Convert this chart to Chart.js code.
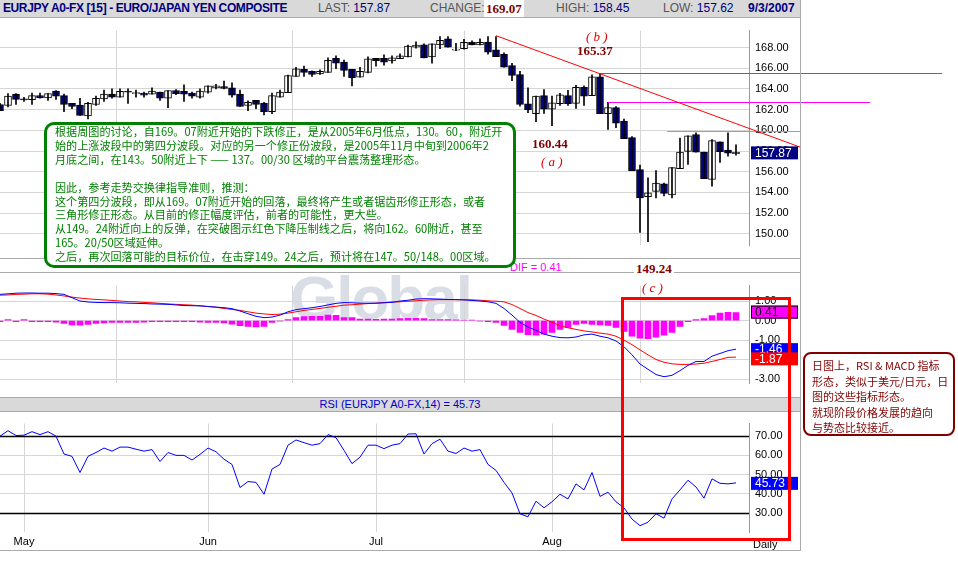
<!DOCTYPE html>
<html>
<head>
<meta charset="utf-8">
<script src="https://cdn.jsdelivr.net/npm/chart.js@4/dist/chart.umd.min.js"></script>
<style>
  body { margin:0; width:958px; height:581px; background:#fff; position:relative; overflow:hidden; font-family:"Liberation Sans", Arial, sans-serif; }
  .abs { position:absolute; }
  canvas { position:absolute; left:0; }
  #hdr { left:0; top:0; width:800px; height:17px; background:#d9d9d9; border-bottom:1px solid #aaa; font-size:12px; line-height:17px; white-space:nowrap; }
  #hdr span { position:absolute; top:0; }
  .lab { color:#555; } .val { color:#000080; }
  .serif { font-family:"Liberation Serif","DejaVu Serif",serif; font-weight:bold; color:#800000; font-size:13px; }
  .ital { font-family:"Liberation Serif",serif; font-style:italic; color:#e00000; font-size:13px; }
  #note { left:44px; top:122px; border:3px solid #008000; border-radius:10px; background:#fff; color:#008000;
          font-family:"Noto Sans CJK SC", sans-serif; font-size:11.1px; line-height:13.9px; padding:0 0 0 8px; box-sizing:border-box; width:472px; height:146px; white-space:nowrap; z-index:5; overflow:hidden; }
  #note2 { left:803px; top:352px; width:152px; height:84px; border:2px solid #800000; border-radius:8px; color:#800000; box-sizing:border-box;
           font-family:"Noto Sans CJK SC", sans-serif; font-size:11px; line-height:15.5px; padding:4px 0 0 7px; white-space:nowrap; }
  #redbox { left:621px; top:297px; width:170px; height:244px; border:3px solid #ff0000; box-sizing:border-box; z-index:6; }
</style>
</head>
<body>
<div class="abs" style="left:290px;top:262px;font:bold 62px 'Liberation Sans',sans-serif;color:rgba(170,182,200,0.45);letter-spacing:-2px;">Global</div>
<canvas id="priceChart" width="958" height="240" style="top:18px"></canvas>
<canvas id="macdChart" width="958" height="123" style="top:273px"></canvas>
<canvas id="rsiChart" width="958" height="140" style="top:411px"></canvas>

<div id="hdr" class="abs">
  <span style="left:3px;font-weight:bold;color:#000080;font-size:12px;letter-spacing:-0.4px;">EURJPY A0-FX [15] - EURO/JAPAN YEN COMPOSITE</span>
  <span style="left:318px;"><span class="lab" style="position:static">LAST: </span><span class="val" style="position:static">157.87</span></span>
  <span style="left:430px;" class="lab">CHANGE: <span style="color:#000080;font-size:9px">&#9650;</span></span>
  <span style="left:484px;background:#fff;padding:0 2px;" class="serif">169.07</span>
  <span style="left:556px;"><span class="lab" style="position:static">HIGH: </span><span class="val" style="position:static">158.45</span></span>
  <span style="left:663px;"><span class="lab" style="position:static">LOW: </span><span class="val" style="position:static">157.62</span></span>
  <span style="left:748px;font-weight:bold;color:#000080;">9/3/2007</span>
</div>
<div class="abs" style="left:0;top:258px;width:800px;height:1px;background:#aaa"></div>
<div class="abs" style="left:0;top:272px;width:800px;height:1px;background:#aaa"></div>
<div class="abs" style="left:0;top:397px;width:800px;height:13px;background:#d9d9d9;border-top:1px solid #aaa;border-bottom:1px solid #aaa;color:#0000cc;font-size:11px;line-height:13px;text-align:center;">RSI (EURJPY A0-FX,14) = 45.73</div>
<div class="abs" style="left:800px;top:0;width:1px;height:551px;background:#aaa"></div>
<div class="abs" style="left:0;top:550px;width:800px;height:1px;background:#aaa"></div>
<div class="abs" style="left:510px;top:261px;color:#ff00ff;font-size:11px;">DIF = 0.41</div>

<div class="abs ital" style="left:586px;top:29px;">( b )</div>
<div class="abs serif" style="left:577px;top:43px;">165.37</div>
<div class="abs serif" style="left:532px;top:136px;">160.44</div>
<div class="abs ital" style="left:541px;top:154px;">( a )</div>
<div class="abs serif" style="left:634px;top:261px;background:#fff;padding:0 2px;z-index:4">149.24</div>
<div class="abs ital" style="left:642px;top:280px;">( c )</div>

<div id="note" class="abs">根据周图的讨论，自169。07附近开始的下跌修正，是从2005年6月低点，130。60，附近开<br>始的上涨波段中的第四分波段。对应的另一个修正份波段，是2005年11月中旬到2006年2<br>月底之间，在143。50附近上下 —— 137。00/30 区域的平台震荡整理形态。<br><br>因此，参考走势交换律指导准则，推测：<br>这个第四分波段，即从169。07附近开始的回落，最终将产生或者锯齿形修正形态，或者<br>三角形修正形态。从目前的修正幅度评估，前者的可能性，更大些。<br>从149。24附近向上的反弹，在突破图示红色下降压制线之后，将向162。60附近，甚至<br>165。20/50区域延伸。<br>之后，再次回落可能的目标价位，在击穿149。24之后，预计将在147。50/148。00区域。</div>
<div id="note2" class="abs">日图上，RSI &amp; MACD 指标<br>形态，类似于美元/日元，日<br>图的这些指标形态。<br>就现阶段价格发展的趋向<br>与势态比较接近。</div>
<div id="redbox" class="abs"></div>

<script>
// trading days 0..92 : Apr 26 2007 .. Sep 3 2007
let monthIdx = [3, 26, 47, 69];
let monthNames = ['May', 'Jun', 'Jul', 'Aug'];
let priceTicks = [150, 152, 154, 156, 158, 160, 162, 164, 166, 168];
let macdTicks = [1, 0, -1, -2, -3];
let rsiTicks = [30, 40, 50, 60, 70];

let opens  = [162.5,162.4,163.5,163.0,162.96,163.36,163.13,163.8,163.36,162.6,162.44,161.4,162.5,163.04,163.5,163.2,163.75,163.55,163.6,163.5,163.7,163.1,163.85,163.76,163.6,163.2,163.7,164.1,164.22,164.1,163.5,162.4,162.9,162.6,161.8,163.2,163.65,165.2,165.9,165.7,165.45,165.6,166.96,166.6,165.9,165.15,165.6,166.95,166.96,166.7,166.93,167.1,168.05,168.26,167.1,168.26,168.85,167.75,167.9,168.5,168.25,168.5,167.77,167.34,166.27,165.4,162.57,161.6,163.35,162.05,162.57,163.35,162.6,164.15,163.35,165.17,161.6,162.2,160.9,159.3,156.2,153.6,154.1,154.82,153.75,156.3,157.96,159.6,157.9,155.25,158.9,158.1,157.75];
let highs  = [162.6,163.56,163.55,163.2,163.6,163.6,163.56,163.85,163.5,162.6,163.1,162.7,163.3,163.9,164.0,164.0,164.0,163.9,163.7,164.1,163.7,163.85,163.95,164.4,163.7,164.0,164.3,164.45,164.75,164.6,163.9,162.85,162.9,162.7,163.6,163.9,165.35,166.1,166.2,165.75,165.85,167.0,167.2,166.8,165.9,166.1,167.1,166.95,167.3,167.2,167.4,168.25,168.55,168.35,168.35,169.05,169.05,168.4,168.8,168.65,168.85,169.05,169.07,167.5,166.47,165.7,164.1,163.3,163.95,163.3,163.58,163.87,164.35,164.3,165.37,165.45,162.7,162.3,161.1,159.4,156.64,155.4,156.1,154.9,156.4,159.24,159.47,159.76,157.9,159.1,158.9,159.76,158.6];
let lows   = [161.9,162.26,162.5,162.8,162.5,163.1,162.9,163.0,161.8,162.1,161.45,161.1,162.4,162.8,163.1,163.2,162.6,163.2,163.2,163.5,162.9,162.2,163.45,162.8,163.1,163.1,163.6,164.0,164.0,163.2,162.3,161.9,162.1,161.5,161.6,163.2,163.65,165.2,165.2,165.2,165.4,165.6,165.95,165.2,164.3,165.15,165.55,166.2,166.3,166.5,166.93,167.1,167.95,167.0,166.5,167.9,168.05,167.7,167.85,168.26,168.25,167.35,167.13,166.1,164.8,162.34,161.7,160.83,161.64,160.44,162.42,162.42,162.13,162.4,163.35,161.6,160.1,160.25,159.2,156.1,150.14,149.24,153.46,153.66,153.46,156.3,156.7,157.9,155.34,154.6,156.9,157.5,157.6];
let closes = [161.9,163.3,163.0,162.95,163.36,163.13,163.56,163.3,162.5,162.3,161.45,162.6,163.1,163.5,163.2,163.76,163.7,163.55,163.4,163.8,163.1,163.85,163.55,163.5,163.3,163.8,164.3,164.3,164.05,163.4,162.3,162.7,162.5,161.8,163.36,163.7,165.3,165.95,165.6,165.4,165.7,166.76,166.5,165.8,165.1,165.7,166.9,166.73,166.6,167.0,167.2,168.15,168.25,167.0,168.35,168.7,168.05,167.85,168.5,168.26,168.5,167.55,167.13,166.1,165.3,162.5,162.0,163.3,162.05,162.65,163.43,162.57,164.15,163.3,165.17,161.6,162.19,160.7,159.2,156.1,153.46,153.95,154.9,153.9,156.4,157.9,159.47,157.9,155.34,159.0,157.94,157.8,157.87];

let dif  = [1.34,1.37,1.40,1.41,1.41,1.40,1.40,1.38,1.34,1.17,1.00,0.95,0.93,0.92,0.92,0.91,0.89,0.88,0.87,0.85,0.84,0.83,0.80,0.77,0.76,0.75,0.72,0.69,0.66,0.61,0.49,0.35,0.22,0.15,0.18,0.28,0.45,0.56,0.61,0.66,0.72,0.80,0.88,0.92,0.91,0.89,0.89,0.89,0.91,0.93,1.00,1.04,1.10,1.12,1.11,1.10,1.08,1.07,1.06,1.03,1.00,0.96,0.88,0.62,0.28,-0.09,-0.33,-0.50,-0.69,-0.80,-0.87,-0.88,-0.84,-0.73,-0.69,-0.80,-0.88,-1.04,-1.34,-1.75,-2.22,-2.49,-2.76,-2.87,-2.80,-2.56,-2.29,-2.09,-2.09,-1.82,-1.68,-1.54,-1.46];
let dea  = [1.30,1.31,1.34,1.35,1.37,1.37,1.35,1.31,1.26,1.20,1.15,1.11,1.08,1.06,1.03,1.00,0.97,0.96,0.93,0.91,0.88,0.85,0.83,0.81,0.79,0.76,0.72,0.68,0.62,0.57,0.52,0.45,0.38,0.34,0.31,0.33,0.38,0.45,0.52,0.57,0.62,0.68,0.73,0.79,0.81,0.84,0.87,0.89,0.92,0.95,0.96,0.99,1.01,1.04,1.06,1.07,1.07,1.07,1.06,1.06,1.04,1.01,0.99,0.96,0.82,0.62,0.41,0.26,0.08,-0.09,-0.26,-0.37,-0.45,-0.53,-0.58,-0.64,-0.69,-0.80,-1.00,-1.23,-1.50,-1.75,-1.99,-2.13,-2.21,-2.24,-2.24,-2.22,-2.18,-2.09,-1.99,-1.88,-1.87];
let hist = [-0.05,0.05,-0.05,0.05,-0.05,-0.05,-0.05,-0.08,-0.15,-0.22,-0.23,-0.2,-0.15,-0.12,-0.1,-0.1,-0.1,-0.1,-0.08,-0.06,-0.05,-0.05,-0.05,-0.05,-0.05,-0.08,-0.1,-0.1,-0.12,-0.18,-0.26,-0.3,-0.33,-0.3,-0.1,-0.03,0.05,0.15,0.2,0.22,0.22,0.28,0.27,0.15,0.15,0.08,0.08,0.07,0.08,0.08,0.1,0.12,0.12,0.1,0.05,0.05,0.05,0.04,0.03,0.02,-0.02,-0.05,-0.1,-0.25,-0.45,-0.6,-0.72,-0.75,-0.7,-0.6,-0.45,-0.35,-0.2,-0.15,-0.2,-0.22,-0.25,-0.35,-0.55,-0.8,-0.9,-0.92,-0.85,-0.75,-0.6,-0.3,-0.05,0.05,0.1,0.25,0.38,0.42,0.41];
let rsi  = [70,72.8,70.3,70.5,72.3,70.8,72.3,70,60.7,59.5,51.1,59.5,61.5,63.8,62.2,64.3,64.3,63.2,62.2,63,56.8,61.5,60,60,57.6,60.5,63.8,61.9,58,55.3,43.3,46.4,46,39.8,52.9,55.3,65.3,68,66.6,65.3,66.1,70.8,69.2,62.6,55.7,59.1,65.3,65.3,63.5,65.3,66.1,71.1,71.2,60.7,66.1,68.4,62.2,61,63.8,62.2,63,55.3,52.2,46,40.5,29.7,28.1,36.2,32.8,35.9,39.8,37.4,45.2,42.1,51.1,38.7,40.9,35.9,32.8,26.9,23.5,25.3,29.7,27.4,37.4,42.1,47.1,43.6,37.8,47.8,45.5,45.2,45.73];

// reference lines (x in trading-day index, y in price)
let trendPts = [[62, 169.15], [74, 165.75]];
let hLines = [
  { from: 75, to: 117.75, y: 165.5, color: '#ff00ff' },
  { from: 76, to: 108.75, y: 162.7, color: '#ff00ff' },
  { from: 83.4, to: 100, y: 159.95, color: '#ff8040' }
];

const XMAX = 749 / 8;
const gridGray = '#d6d6d6';
const axisFont = { family: "'Liberation Sans', Arial, sans-serif", size: 11 };

function xScale(showLabels) {
  return {
    type: 'linear', min: 0, max: XMAX, offset: false,
    afterBuildTicks: s => { s.ticks = monthIdx.map(v => ({ value: v })); },
    afterFit: s => { s.height = showLabels ? 19 : 0; },
    grid: { color: gridGray, drawTicks: false },
    border: { display: false },
    ticks: {
      display: showLabels, autoSkip: false, maxRotation: 0, color: '#000', font: axisFont, padding: 3,
      callback: v => monthNames[monthIdx.indexOf(v)] || ''
    }
  };
}
function yScale(min, max, tickVals, fmt) {
  return {
    position: 'right', min: min, max: max,
    afterBuildTicks: s => { s.ticks = tickVals.map(v => ({ value: v })); },
    afterFit: s => { s.width = 958 - 749; },
    grid: { color: gridGray, drawTicks: false },
    border: { display: true, color: '#999' },
    ticks: { autoSkip: false, color: '#000', font: axisFont, padding: 6, callback: fmt }
  };
}
const tagPlugin = {
  id: 'tags',
  afterDraw(chart, args, opts) {
    const c = chart.ctx, ys = chart.scales.y;
    (opts.tags || []).forEach(t => {
      const py = ys.getPixelForValue(t.v);
      c.save();
      c.fillStyle = t.bg;
      c.fillRect(751, py - 6, 47, 13);
      if (t.border) { c.strokeStyle = t.border; c.lineWidth = 1; c.strokeRect(751.5, py - 5.5, 46, 12); }
      c.fillStyle = t.fg; c.font = "12px 'Liberation Sans', Arial"; c.textBaseline = 'middle';
      c.fillText(t.text, 755, py + 1);
      c.restore();
    });
  }
};
const linesPlugin = {
  id: 'refLines',
  afterDraw(chart) {
    const c = chart.ctx, xs = chart.scales.x, ys = chart.scales.y;
    c.save();
    c.lineWidth = 1;
    hLines.forEach(l => {
      c.strokeStyle = l.color;
      const py = Math.round(ys.getPixelForValue(l.y)) + 0.5;
      c.beginPath(); c.moveTo(xs.getPixelForValue(l.from), py); c.lineTo(xs.getPixelForValue(l.to), py); c.stroke();
    });
    const x1 = xs.getPixelForValue(trendPts[0][0]), y1 = ys.getPixelForValue(trendPts[0][1]);
    const x2 = xs.getPixelForValue(trendPts[1][0]), y2 = ys.getPixelForValue(trendPts[1][1]);
    const xe = 800, ye = y1 + (y2 - y1) * (xe - x1) / (x2 - x1);
    c.strokeStyle = '#ff0000';
    c.beginPath(); c.moveTo(x1, y1); c.lineTo(xe, ye); c.stroke();
    c.restore();
  }
};

const common = {
  responsive: false, animation: false,
  layout: { padding: 0 },
  plugins: { legend: { display: false }, tooltip: { enabled: false } }
};

// ---- price ----
let wickData = opens.map((o, i) => ({ x: i, y: [lows[i], highs[i]] }));
let bodyData = opens.map((o, i) => ({ x: i, y: [Math.min(o, closes[i]), Math.max(o, closes[i])] }));
new Chart(document.getElementById('priceChart'), {
  type: 'bar',
  data: {
    datasets: [
      { data: wickData, backgroundColor: '#000', barThickness: 1, grouped: false },
      { data: bodyData, grouped: false, barThickness: 7, minBarLength: 1,
        backgroundColor: opens.map((o, i) => closes[i] >= o ? '#ffffff' : '#000080'),
        borderColor: '#000', borderWidth: 1, borderSkipped: false }
    ]
  },
  options: Object.assign({}, common, {
    scales: {
      x: xScale(false),
      y: yScale(169.64 - 240 / 11.56, 169.64, priceTicks, v => v.toFixed(2))
    },
    plugins: Object.assign({}, common.plugins, {
      tags: { tags: [{ v: closes[closes.length - 1], text: closes[closes.length - 1].toFixed(2), bg: '#000080', fg: '#fff' }] }
    })
  }),
  plugins: [linesPlugin, tagPlugin]
});

// ---- MACD ----
let idx = opens.map((o, i) => i);
new Chart(document.getElementById('macdChart'), {
  type: 'bar',
  data: {
    datasets: [
      { type: 'line', data: idx.map(i => ({ x: i, y: dif[i] })), borderColor: '#0000ff', borderWidth: 1, pointRadius: 0, order: 1 },
      { type: 'line', data: idx.map(i => ({ x: i, y: dea[i] })), borderColor: '#ff0000', borderWidth: 1, pointRadius: 0, order: 2 },
      { data: idx.map(i => ({ x: i, y: hist[i] })), backgroundColor: '#ff00ff', barThickness: 6, order: 3 }
    ]
  },
  options: Object.assign({}, common, {
    scales: {
      x: xScale(false),
      y: yScale(-(123 - 44) / 24.6, 44 / 24.6, macdTicks, v => (v === -2 ? '' : v.toFixed(2)))
    },
    plugins: Object.assign({}, common.plugins, {
      tags: { tags: [
        { v: hist[92] + 0.05, text: hist[92].toFixed(2), bg: '#ff00ff', fg: '#000', border: '#000' },
        { v: dif[92], text: dif[92].toFixed(2), bg: '#0000ff', fg: '#fff' },
        { v: dea[92] - 0.06, text: dea[92].toFixed(2), bg: '#ff0000', fg: '#fff' }
      ] }
    })
  }),
  plugins: [tagPlugin]
});

// ---- RSI ----
const rsiLevels = {
  id: 'rsiLevels',
  beforeDatasetsDraw(chart) {
    const c = chart.ctx, ys = chart.scales.y, a = chart.chartArea;
    c.save(); c.strokeStyle = '#000'; c.lineWidth = 1.3;
    [70, 30].forEach(v => { const py = Math.round(ys.getPixelForValue(v)) + 0.5; c.beginPath(); c.moveTo(a.left, py); c.lineTo(a.right, py); c.stroke(); });
    c.restore();
    c.save(); c.fillStyle = '#000'; c.font = "11px 'Liberation Sans', Arial"; c.fillText('Daily', 753, 137); c.restore();
  }
};
new Chart(document.getElementById('rsiChart'), {
  type: 'line',
  data: { datasets: [{ data: idx.map(i => ({ x: i, y: rsi[i] })), borderColor: '#0000ff', borderWidth: 1, pointRadius: 0 }] },
  options: Object.assign({}, common, {
    scales: {
      x: xScale(true),
      y: yScale(76.5 - 121 / 2.15, 76.5, rsiTicks, v => v.toFixed(2))
    },
    plugins: Object.assign({}, common.plugins, {
      tags: { tags: [{ v: rsi[92], text: rsi[92].toFixed(2), bg: '#0000ff', fg: '#fff' }] }
    })
  }),
  plugins: [rsiLevels, tagPlugin]
});
</script>
</body>
</html>
